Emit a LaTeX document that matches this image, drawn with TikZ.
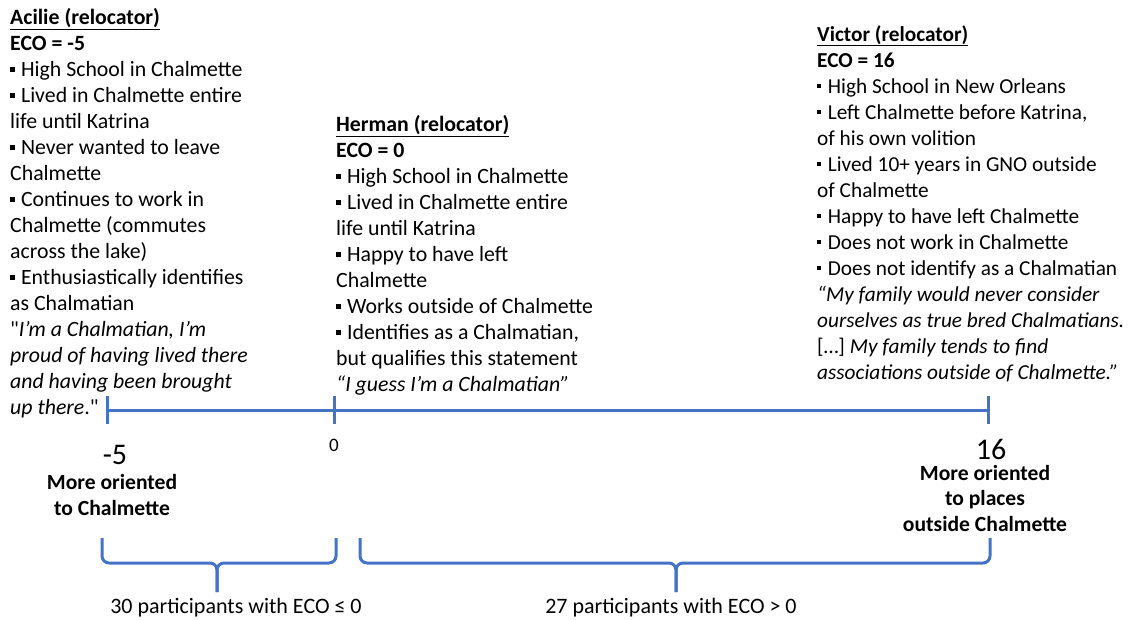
\documentclass[tikz,border=0pt]{standalone}
\usepackage{fontspec}
\setmainfont{Carlito}
\newfontfamily\carlplain{Carlito}
\definecolor{axblue}{HTML}{4472C4}
\newcommand{\bul}{\rule[0.22em]{0.2em}{0.2em}\hspace{0.3em}}
\newcommand{\sq}{{\carlplain"}}
\tikzset{
  block/.style={anchor=north west, inner sep=0pt, align=left, font=\fontsize{21.8}{26}\selectfont},
  axisline/.style={draw=axblue, line width=3pt},
  bracestyle/.style={draw=axblue, line width=3pt, rounded corners=7pt},
  endlabel/.style={inner sep=0pt, align=center, font=\bfseries\fontsize{21.6}{25.5}\selectfont},
  numlabel/.style={inner sep=0pt, font=\fontsize{30}{34}\selectfont},
  countlabel/.style={inner sep=0pt, font=\fontsize{22}{26}\selectfont}
}
\begin{document}
\begin{tikzpicture}[x=1pt,y=-1pt]
\useasboundingbox (0,0) rectangle (1129,620);
% text blocks
\node[block] (acilie) at (10,8) {\textbf{\underline{Acilie (relocator)}}\\
\textbf{ECO = -5}\\
\bul High School in Chalmette\\
\bul Lived in Chalmette entire\\
life until Katrina\\
\bul Never wanted to leave\\
Chalmette\\
\bul Continues to work in\\
Chalmette (commutes\\
across the lake)\\
\bul Enthusiastically identifies\\
as Chalmatian\\
\sq\textit{I’m a Chalmatian, I’m}\\
\textit{proud of having lived there}\\
\textit{and having been brought}\\
\textit{up there}.\sq};
\node[block] (herman) at (336,115) {\textbf{\underline{Herman (relocator)}}\\
\textbf{ECO = 0}\\
\bul High School in Chalmette\\
\bul Lived in Chalmette entire\\
life until Katrina\\
\bul Happy to have left\\
Chalmette\\
\bul Works outside of Chalmette\\
\bul Identifies as a Chalmatian,\\
but qualifies this statement\\
\textit{“I guess I’m a Chalmatian”}};
\node[block, font=\fontsize{21.3}{26}\selectfont] (victor) at (817,25) {\textbf{\underline{Victor (relocator)}}\\
\textbf{ECO = 16}\\
\bul High School in New Orleans\\
\bul Left Chalmette before Katrina,\\
of his own volition\\
\bul Lived 10+ years in GNO outside\\
of Chalmette\\
\bul Happy to have left Chalmette\\
\bul Does not work in Chalmette\\
\bul Does not identify as a Chalmatian\\
\textit{“My family would never consider}\\
\textit{ourselves as true bred Chalmatians.}\\
{[…]} \textit{My family tends to find}\\
\textit{associations outside of Chalmette.”}};
% axis
\coordinate (pA) at (107,410);
\coordinate (pH) at (334,410);
\coordinate (pV) at (988,410);
\path[axisline] (pA) -- (pV);
\path[axisline] ([yshift=-14pt]pA) -- ([yshift=14pt]pA);
\path[axisline] ([yshift=-14pt]pH) -- ([yshift=14pt]pH);
\path[axisline] ([yshift=-14pt]pV) -- ([yshift=14pt]pV);
% numbers
\node[numlabel] (nA) at (115,455) {-5};
\node[inner sep=0pt, font=\fontsize{19}{22}\selectfont] (nH) at (334,445) {0};
\node[numlabel] (nV) at (991,449) {16};
\node[endlabel] (lA) at (112,495) {More oriented\\to Chalmette};
\node[endlabel] (lV) at (985,498) {More oriented\\to places\\outside Chalmette};
% braces
\coordinate (b1l) at (102,538);
\coordinate (b1r) at (336,538);
\coordinate (b1t) at (217,592);
\path[bracestyle] (b1l) |- (b1t |- 0,563) -- (b1t);
\path[bracestyle] (b1r) |- (b1t |- 0,563) -- (b1t);
\coordinate (b2l) at (360,538);
\coordinate (b2r) at (990,538);
\coordinate (b2t) at (676,592);
\path[bracestyle] (b2l) |- (b2t |- 0,563) -- (b2t);
\path[bracestyle] (b2r) |- (b2t |- 0,563) -- (b2t);
\node[countlabel] (cA) at (236,608) {30 participants with ECO ≤ 0};
\node[countlabel] (cV) at (671,608) {27 participants with ECO > 0};
\end{tikzpicture}
\end{document}
